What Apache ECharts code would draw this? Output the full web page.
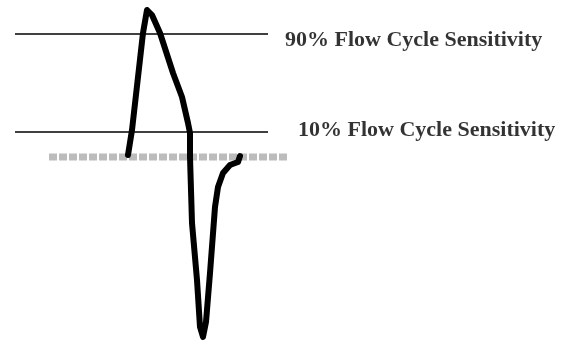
<!DOCTYPE html>
<html>
<head>
<meta charset="utf-8">
<script src="https://cdn.jsdelivr.net/npm/echarts@6/dist/echarts.min.js"></script>
<style>
  html, body { margin: 0; padding: 0; background: #fff; }
  #view { width: 576px; height: 341px; }
</style>
</head>
<body>
<div id="view"></div>
<script>
// flow signal, time in ms-like units, flow relative to baseline
let waveTime = [128, 132, 143, 147, 152, 160, 173, 182, 188, 190, 190, 192, 197, 200, 203, 206, 210, 215, 218, 223, 230, 238, 240];
let waveFlow = [2, 27, 124, 147, 142, 124, 84, 60, 34, 24, 0, -66, -123, -170, -180, -165, -116, -50, -30, -16, -8, -5, 1];

let baseTime = [49, 287];
let baseFlow = [0, 0];

let thresholdNames = ["90% Flow Cycle Sensitivity", "10% Flow Cycle Sensitivity"];
let thresholdFlow = [123, 25];
let thresholdTime = [15, 268];
let labelTime = [285, 298];
let labelShift = [6, -2];

let chart = echarts.init(document.getElementById("view"));

let waveData = waveTime.map((t, i) => [t, waveFlow[i]]);
let baseData = baseTime.map((t, i) => [t, baseFlow[i]]);

let seriesList = [
  {
    name: "baseline",
    type: "line",
    data: baseData,
    symbol: "none",
    silent: true,
    lineStyle: { color: "#bcbcbc", width: 7, type: [8, 2] },
    z: 1,
  },
];

thresholdFlow.forEach((f, i) => {
  seriesList.push({
    name: thresholdNames[i],
    type: "line",
    data: thresholdTime.map((t) => [t, f]),
    symbol: "none",
    silent: true,
    lineStyle: { color: "#000", width: 1.5 },
    z: 2,
  });
  seriesList.push({
    name: thresholdNames[i] + " label",
    type: "scatter",
    data: [[labelTime[i], f]],
    symbolSize: 0,
    silent: true,
    label: {
      show: true,
      position: "right",
      distance: 0,
      offset: [0, labelShift[i]],
      formatter: thresholdNames[i],
      fontFamily: "Liberation Serif",
      fontWeight: "bold",
      fontSize: 22,
      color: "#000",
      textBorderWidth: 0,
    },
  });
});

seriesList.push({
  name: "flow",
  type: "line",
  data: waveData,
  symbol: "none",
  silent: true,
  lineStyle: { color: "#000", width: 6, join: "round", cap: "round" },
  z: 3,
});

let option = {
  backgroundColor: "#fff",
  animation: false,
  grid: { left: 0, right: 0, top: 0, bottom: 0 },
  xAxis: { type: "value", min: 0, max: 576, show: false },
  yAxis: { type: "value", min: -184, max: 157, show: false },
  series: seriesList,
};
chart.setOption(option);
</script>
</body>
</html>
